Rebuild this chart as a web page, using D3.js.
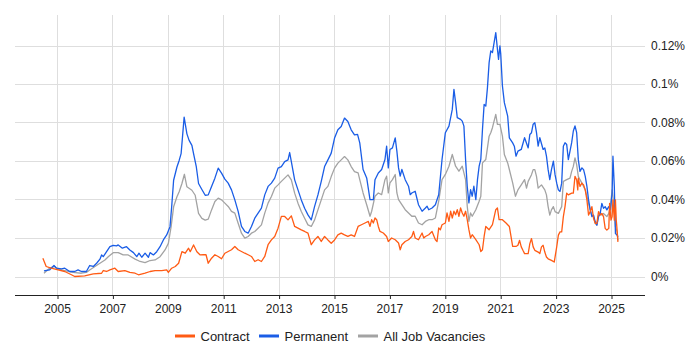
<!DOCTYPE html>
<html>
<head>
<meta charset="utf-8">
<script src="https://cdn.jsdelivr.net/npm/d3@7"></script>
<style>
  html, body { margin: 0; padding: 0; background: #fff; }
  svg { display: block; font-family: "Liberation Sans", Arial, sans-serif; }
</style>
</head>
<body>
<svg id="chart" width="700" height="350"></svg>
<script>
// ---- data: [decimal year, share of vacancies in %] ----
const seriesNames = ["Contract", "Permanent", "All Job Vacancies"];
const seriesColors = ["#ff5b14", "#1a5de6", "#a3a3a3"];
const yearTicks = [2005, 2007, 2009, 2011, 2013, 2015, 2017, 2019, 2021, 2023, 2025];
const valueTicks = [0, 0.02, 0.04, 0.06, 0.08, 0.1, 0.12];

const contract = [
  [2004.49,0.0095],[2004.61,0.0052],[2004.79,0.0043],[2005.04,0.0034],[2005.28,0.0026],[2005.52,0.0009],
  [2005.64,0.0],[2006.0,0.0003],[2006.31,0.0014],[2006.61,0.0017],[2006.67,0.0031],[2006.79,0.0026],
  [2006.91,0.0034],[2007.09,0.0043],[2007.21,0.0026],[2007.45,0.0031],[2007.63,0.0021],[2007.82,0.0017],
  [2007.94,0.0009],[2008.18,0.0017],[2008.36,0.0026],[2008.54,0.0031],[2008.78,0.0031],[2008.96,0.0034],
  [2009.02,0.0021],[2009.14,0.0043],[2009.27,0.0052],[2009.39,0.0069],[2009.51,0.0129],[2009.63,0.0121],
  [2009.75,0.0147],[2009.81,0.0129],[2009.93,0.0164],[2010.05,0.0129],[2010.17,0.0112],[2010.28,0.0113],
  [2010.38,0.0113],[2010.46,0.0069],[2010.58,0.0095],[2010.70,0.0113],[2010.82,0.0104],[2010.94,0.0092],
  [2011.06,0.0121],[2011.18,0.013],[2011.30,0.0139],[2011.42,0.0156],[2011.54,0.0139],[2011.66,0.013],
  [2011.78,0.0121],[2011.90,0.0113],[2012.02,0.0104],[2012.14,0.0078],[2012.26,0.0087],[2012.38,0.0078],
  [2012.50,0.0104],[2012.62,0.0165],[2012.74,0.019],[2012.86,0.0208],[2012.98,0.0251],[2013.10,0.0312],
  [2013.22,0.0312],[2013.34,0.0294],[2013.46,0.0315],[2013.58,0.026],[2013.70,0.0251],[2013.82,0.0242],
  [2013.94,0.0234],[2014.06,0.0225],[2014.18,0.0165],[2014.30,0.019],[2014.42,0.0208],[2014.54,0.0182],
  [2014.66,0.0208],[2014.78,0.019],[2014.90,0.0173],[2015.02,0.019],[2015.14,0.0216],[2015.26,0.0225],
  [2015.38,0.0216],[2015.50,0.0208],[2015.62,0.0216],[2015.74,0.0208],[2015.87,0.026],[2015.99,0.0269],
  [2016.12,0.0278],[2016.24,0.0286],[2016.30,0.026],[2016.36,0.0295],[2016.42,0.0278],[2016.48,0.0304],
  [2016.54,0.0295],[2016.60,0.026],[2016.66,0.0234],[2016.78,0.0226],[2016.90,0.0208],[2016.96,0.0182],
  [2017.08,0.02],[2017.21,0.0191],[2017.33,0.0174],[2017.39,0.0139],[2017.45,0.0165],[2017.57,0.0182],
  [2017.69,0.0191],[2017.81,0.0208],[2017.87,0.0234],[2017.93,0.02],[2018.05,0.0191],[2018.18,0.0226],
  [2018.24,0.02],[2018.30,0.0208],[2018.42,0.0217],[2018.54,0.0234],[2018.66,0.0191],[2018.72,0.0182],
  [2018.78,0.0252],[2018.84,0.0243],[2018.90,0.0269],[2019.02,0.0278],[2019.08,0.033],[2019.15,0.0286],
  [2019.21,0.0339],[2019.27,0.0304],[2019.33,0.0339],[2019.39,0.0321],[2019.45,0.0347],[2019.51,0.0313],
  [2019.57,0.0356],[2019.63,0.033],[2019.69,0.0313],[2019.75,0.0339],[2019.81,0.0295],[2019.87,0.0243],
  [2019.93,0.02],[2019.99,0.0217],[2020.12,0.0191],[2020.24,0.0165],[2020.30,0.013],[2020.36,0.0139],
  [2020.42,0.0208],[2020.48,0.026],[2020.60,0.0243],[2020.72,0.0269],[2020.84,0.0347],[2020.90,0.0356],
  [2020.96,0.0295],[2021.08,0.0295],[2021.21,0.0278],[2021.33,0.026],[2021.39,0.0208],[2021.45,0.0156],
  [2021.57,0.0156],[2021.64,0.0162],[2021.70,0.0188],[2021.76,0.0154],[2021.82,0.0136],[2021.88,0.0119],
  [2022.01,0.0119],[2022.07,0.0171],[2022.13,0.0197],[2022.19,0.0154],[2022.25,0.0136],[2022.37,0.0127],
  [2022.43,0.0119],[2022.49,0.0154],[2022.55,0.0162],[2022.61,0.0127],[2022.67,0.0101],[2022.73,0.0092],
  [2022.85,0.0084],[2022.95,0.0075],[2022.98,0.0101],[2023.04,0.0154],[2023.10,0.0215],[2023.16,0.0232],
  [2023.22,0.0232],[2023.28,0.0311],[2023.34,0.0363],[2023.40,0.0433],[2023.46,0.0424],[2023.58,0.0433],
  [2023.64,0.0433],[2023.70,0.052],[2023.76,0.0503],[2023.80,0.045],[2023.82,0.0511],[2023.88,0.0468],
  [2023.95,0.0485],[2024.01,0.0476],[2024.07,0.045],[2024.13,0.0398],[2024.19,0.0319],[2024.25,0.0337],
  [2024.31,0.0363],[2024.37,0.0302],[2024.43,0.0276],[2024.49,0.0276],[2024.55,0.0337],[2024.61,0.0319],
  [2024.67,0.0328],[2024.73,0.0311],[2024.79,0.025],[2024.85,0.0241],[2024.92,0.025],[2024.95,0.038],
  [2025.00,0.0293],[2025.04,0.0311],[2025.07,0.0398],[2025.12,0.0293],[2025.16,0.0398],[2025.19,0.0293],
  [2025.22,0.0241],[2025.25,0.018]
];

const permanent = [
  [2004.53,0.0029],[2004.73,0.0034],[2004.89,0.0057],[2004.98,0.0043],[2005.16,0.004],[2005.28,0.0043],
  [2005.46,0.0026],[2005.64,0.0026],[2005.76,0.0034],[2005.88,0.0026],[2006.06,0.0026],[2006.18,0.0057],
  [2006.31,0.0052],[2006.43,0.0069],[2006.55,0.009],[2006.61,0.0112],[2006.67,0.0103],[2006.79,0.0129],
  [2006.91,0.0155],[2007.03,0.0162],[2007.15,0.0159],[2007.21,0.0164],[2007.36,0.0147],[2007.51,0.0155],
  [2007.63,0.0138],[2007.76,0.0124],[2007.88,0.0103],[2007.96,0.0121],[2008.06,0.01],[2008.18,0.0121],
  [2008.30,0.01],[2008.36,0.0124],[2008.48,0.0112],[2008.60,0.0129],[2008.72,0.0155],[2008.84,0.019],
  [2008.96,0.0216],[2009.08,0.0259],[2009.14,0.0362],[2009.21,0.05],[2009.33,0.0569],[2009.41,0.0603],
  [2009.48,0.0638],[2009.53,0.0724],[2009.59,0.0828],[2009.69,0.0741],[2009.77,0.0707],[2009.87,0.0681],
  [2009.93,0.0638],[2010.03,0.0569],[2010.11,0.0483],[2010.23,0.0452],[2010.35,0.0422],[2010.46,0.0424],
  [2010.58,0.0468],[2010.70,0.0511],[2010.82,0.0563],[2010.94,0.0537],[2011.06,0.0506],[2011.18,0.0485],
  [2011.30,0.045],[2011.42,0.0398],[2011.54,0.0338],[2011.66,0.026],[2011.78,0.0234],[2011.90,0.0225],
  [2012.02,0.026],[2012.14,0.0303],[2012.26,0.0329],[2012.38,0.0355],[2012.50,0.0424],[2012.62,0.0468],
  [2012.74,0.0485],[2012.86,0.0511],[2012.98,0.0563],[2013.10,0.0571],[2013.22,0.0597],[2013.34,0.0606],
  [2013.40,0.0644],[2013.46,0.0597],[2013.58,0.0502],[2013.70,0.045],[2013.82,0.0398],[2013.94,0.0355],
  [2014.06,0.032],[2014.18,0.0294],[2014.30,0.0364],[2014.42,0.0424],[2014.54,0.0494],[2014.66,0.0571],
  [2014.78,0.0606],[2014.90,0.0641],[2015.02,0.0719],[2015.14,0.0762],[2015.26,0.0779],[2015.38,0.0823],
  [2015.50,0.0805],[2015.62,0.0762],[2015.74,0.0736],[2015.85,0.0738],[2015.93,0.0694],[2016.05,0.0556],
  [2016.18,0.0512],[2016.30,0.0399],[2016.42,0.0399],[2016.48,0.0503],[2016.60,0.0538],[2016.72,0.0556],
  [2016.84,0.0608],[2016.90,0.0677],[2016.96,0.0564],[2017.02,0.066],[2017.11,0.0668],[2017.21,0.072],
  [2017.27,0.0651],[2017.33,0.0564],[2017.39,0.0521],[2017.45,0.0556],[2017.57,0.0503],[2017.69,0.0469],
  [2017.75,0.0425],[2017.81,0.0434],[2017.93,0.0443],[2018.05,0.0373],[2018.18,0.0339],[2018.30,0.0356],
  [2018.36,0.0365],[2018.42,0.0347],[2018.54,0.0356],[2018.66,0.0373],[2018.78,0.0425],[2018.90,0.0608],
  [2019.02,0.0747],[2019.15,0.0781],[2019.27,0.0868],[2019.33,0.0972],[2019.39,0.0903],[2019.45,0.0825],
  [2019.57,0.0816],[2019.63,0.0807],[2019.69,0.0781],[2019.75,0.0608],[2019.81,0.0469],[2019.87,0.0382],
  [2019.93,0.0451],[2019.99,0.0417],[2020.05,0.0469],[2020.12,0.0399],[2020.18,0.0503],[2020.24,0.0573],
  [2020.30,0.0608],[2020.36,0.0764],[2020.42,0.0894],[2020.48,0.0885],[2020.54,0.0981],[2020.60,0.1111],
  [2020.66,0.1172],[2020.72,0.1163],[2020.78,0.1215],[2020.84,0.1267],[2020.90,0.1181],[2020.94,0.1128],
  [2020.99,0.1198],[2021.02,0.1155],[2021.08,0.099],[2021.15,0.0903],[2021.27,0.0833],[2021.33,0.072],
  [2021.45,0.0694],[2021.51,0.0677],[2021.57,0.0625],[2021.64,0.0651],[2021.76,0.066],[2021.88,0.0721],
  [2022.01,0.0668],[2022.07,0.0738],[2022.13,0.0747],[2022.19,0.0791],[2022.25,0.0799],[2022.31,0.0747],
  [2022.37,0.0677],[2022.43,0.0721],[2022.55,0.066],[2022.61,0.0668],[2022.67,0.0625],[2022.73,0.0555],
  [2022.79,0.0503],[2022.85,0.0555],[2022.92,0.0599],[2022.98,0.0529],[2023.04,0.0485],[2023.10,0.045],
  [2023.16,0.0442],[2023.22,0.0485],[2023.28,0.0677],[2023.34,0.0695],[2023.40,0.0686],[2023.46,0.0607],
  [2023.52,0.0651],[2023.58,0.0695],[2023.64,0.0756],[2023.70,0.0782],[2023.76,0.0747],[2023.82,0.0607],
  [2023.88,0.0546],[2023.95,0.0564],[2024.01,0.0555],[2024.07,0.052],[2024.13,0.0468],[2024.19,0.0398],
  [2024.25,0.0346],[2024.31,0.0311],[2024.37,0.0319],[2024.43,0.0284],[2024.49,0.0267],[2024.55,0.0311],
  [2024.61,0.0328],[2024.67,0.038],[2024.73,0.0354],[2024.79,0.0363],[2024.85,0.0346],[2024.92,0.0363],
  [2024.98,0.0346],[2025.04,0.0433],[2025.07,0.0625],[2025.12,0.0468],[2025.16,0.0223],[2025.22,0.0215],
  [2025.25,0.0206]
];

const allJobs = [
  [2004.53,0.0017],[2004.73,0.0043],[2004.92,0.0052],[2005.04,0.0038],[2005.28,0.0031],[2005.58,0.0021],
  [2005.88,0.0017],[2006.06,0.0021],[2006.18,0.0034],[2006.37,0.0052],[2006.55,0.0069],[2006.73,0.0086],
  [2006.85,0.0103],[2007.03,0.0124],[2007.21,0.0124],[2007.39,0.0112],[2007.57,0.0112],[2007.82,0.009],
  [2008.0,0.0078],[2008.18,0.0072],[2008.36,0.0083],[2008.54,0.0086],[2008.72,0.0103],[2008.90,0.0138],
  [2009.02,0.0172],[2009.12,0.0259],[2009.21,0.0362],[2009.33,0.0414],[2009.41,0.044],[2009.51,0.0483],
  [2009.60,0.0531],[2009.69,0.0466],[2009.87,0.0448],[2009.99,0.0422],[2010.11,0.0328],[2010.23,0.0302],
  [2010.35,0.0293],[2010.46,0.0298],[2010.58,0.0346],[2010.70,0.039],[2010.82,0.0407],[2010.94,0.0398],
  [2011.06,0.0381],[2011.18,0.0364],[2011.30,0.0338],[2011.42,0.0329],[2011.54,0.0277],[2011.66,0.0225],
  [2011.78,0.0199],[2011.90,0.0208],[2012.02,0.0225],[2012.14,0.0234],[2012.26,0.0251],[2012.38,0.0268],
  [2012.50,0.0329],[2012.62,0.0381],[2012.74,0.0416],[2012.86,0.0459],[2012.98,0.0476],[2013.10,0.0494],
  [2013.22,0.0511],[2013.34,0.0528],[2013.46,0.0502],[2013.58,0.0433],[2013.70,0.0381],[2013.82,0.0338],
  [2013.94,0.0303],[2014.06,0.0268],[2014.18,0.026],[2014.30,0.0294],[2014.42,0.0346],[2014.54,0.0398],
  [2014.66,0.045],[2014.78,0.0468],[2014.90,0.0519],[2015.02,0.0563],[2015.14,0.0589],[2015.26,0.0606],
  [2015.38,0.0623],[2015.50,0.0606],[2015.62,0.0571],[2015.74,0.0545],[2015.87,0.0538],[2015.93,0.0503],
  [2016.05,0.0434],[2016.18,0.0373],[2016.30,0.0313],[2016.36,0.0339],[2016.48,0.0417],[2016.60,0.0434],
  [2016.72,0.0425],[2016.84,0.0503],[2016.90,0.0521],[2016.96,0.0434],[2017.02,0.0486],[2017.11,0.0503],
  [2017.21,0.053],[2017.27,0.0434],[2017.33,0.0399],[2017.45,0.0373],[2017.57,0.0347],[2017.69,0.033],
  [2017.81,0.0313],[2017.93,0.0313],[2018.05,0.0278],[2018.18,0.0269],[2018.30,0.0286],[2018.42,0.0295],
  [2018.54,0.0295],[2018.66,0.0304],[2018.78,0.0391],[2018.90,0.0503],[2019.02,0.053],[2019.15,0.0573],
  [2019.27,0.0634],[2019.39,0.0573],[2019.51,0.0547],[2019.63,0.0573],[2019.75,0.0503],[2019.81,0.0365],
  [2019.87,0.0286],[2019.93,0.033],[2019.99,0.0313],[2020.12,0.0347],[2020.24,0.0391],[2020.30,0.0417],
  [2020.36,0.059],[2020.48,0.0608],[2020.60,0.0729],[2020.66,0.0747],[2020.72,0.0773],[2020.84,0.0842],
  [2020.90,0.079],[2020.99,0.079],[2021.08,0.0729],[2021.15,0.0634],[2021.27,0.059],[2021.33,0.0556],
  [2021.45,0.0486],[2021.55,0.0417],[2021.64,0.045],[2021.76,0.0476],[2021.88,0.0503],[2021.95,0.0459],
  [2022.01,0.0494],[2022.13,0.0529],[2022.19,0.0555],[2022.25,0.0555],[2022.31,0.052],[2022.37,0.0459],
  [2022.49,0.0476],[2022.61,0.045],[2022.67,0.0424],[2022.73,0.0363],[2022.79,0.0319],[2022.85,0.0346],
  [2022.92,0.0363],[2022.98,0.0337],[2023.10,0.0328],[2023.22,0.0363],[2023.28,0.0494],[2023.40,0.0503],
  [2023.52,0.0511],[2023.58,0.0546],[2023.64,0.0572],[2023.70,0.0616],[2023.76,0.0581],[2023.82,0.052],
  [2023.88,0.0503],[2023.95,0.0485],[2024.01,0.0468],[2024.07,0.045],[2024.13,0.0415],[2024.19,0.038],
  [2024.25,0.0346],[2024.31,0.0319],[2024.37,0.0311],[2024.43,0.0276],[2024.49,0.0267],[2024.55,0.0319],
  [2024.61,0.0328],[2024.67,0.0319],[2024.73,0.0328],[2024.79,0.0319],[2024.85,0.0311],[2024.92,0.0328],
  [2024.98,0.0363],[2025.04,0.045],[2025.10,0.038],[2025.16,0.0258],[2025.22,0.0232],[2025.25,0.0188]
];

// ---- layout ----
const plotLeft = 15, plotRight = 645, plotTop = 15, plotBottom = 295;
const svg = d3.select("#chart");

const x = d3.scaleLinear().domain([2005, 2025]).range([57, 611]);
const y = d3.scaleLinear().domain([0, 0.12]).range([276.5, 45.5]);

const g = svg.append("g");

// horizontal grid
g.append("g").selectAll("line").data(valueTicks).join("line")
  .attr("x1", plotLeft).attr("x2", plotRight)
  .attr("y1", d => Math.round(y(d)) + 0.5).attr("y2", d => Math.round(y(d)) + 0.5)
  .attr("stroke", "#dedede").attr("stroke-width", 1);

// vertical grid
g.append("g").selectAll("line").data(yearTicks).join("line")
  .attr("x1", d => Math.round(x(d)) + 0.5).attr("x2", d => Math.round(x(d)) + 0.5)
  .attr("y1", plotTop).attr("y2", plotBottom)
  .attr("stroke", "#dedede").attr("stroke-width", 1);

// y labels (right side)
g.append("g").selectAll("text").data(valueTicks).join("text")
  .attr("x", 651).attr("y", d => y(d))
  .attr("dy", "0.35em")
  .attr("font-size", 12).attr("fill", "#222")
  .text(d => (d === 0 ? "0" : d3.format("")(+d.toFixed(2))) + "%");

// x axis
const xAxis = d3.axisBottom(x).tickValues(yearTicks).tickFormat(d3.format("d")).tickSize(4).tickSizeOuter(0);
const ax = svg.append("g").attr("transform", `translate(0,${plotBottom})`).call(xAxis);
ax.select(".domain").attr("d", `M${plotLeft},0.5H${plotRight}`).attr("stroke", "#222");
ax.selectAll(".tick line").attr("stroke", "#222").attr("transform", "translate(0.5,0)");
ax.selectAll(".tick text").attr("font-size", 12).attr("fill", "#222")
  .attr("font-family", "'Liberation Sans', Arial, sans-serif").attr("dy", "0.95em");

// lines
const line = d3.line().x(d => x(d[0])).y(d => y(d[1]));
const drawOrder = [[allJobs, 2], [permanent, 1], [contract, 0]];
drawOrder.forEach(([data, i]) => {
  svg.append("path").datum(data)
    .attr("d", line).attr("fill", "none")
    .attr("stroke", seriesColors[i]).attr("stroke-width", 1.3)
    .attr("stroke-linejoin", "round");
});

// legend
const legendItems = [
  { name: seriesNames[0], color: seriesColors[0], x: 175 },
  { name: seriesNames[1], color: seriesColors[1], x: 259 },
  { name: seriesNames[2], color: seriesColors[2], x: 358 }
];
const lg = svg.append("g").selectAll("g").data(legendItems).join("g")
  .attr("transform", d => `translate(${d.x},336)`);
lg.append("line").attr("x1", 0).attr("x2", 20).attr("y1", 0).attr("y2", 0)
  .attr("stroke", d => d.color).attr("stroke-width", 3);
lg.append("text").attr("x", 25.5).attr("y", 0).attr("dy", "0.35em")
  .attr("font-size", 13).attr("fill", "#222").text(d => d.name);
</script>
</body>
</html>
